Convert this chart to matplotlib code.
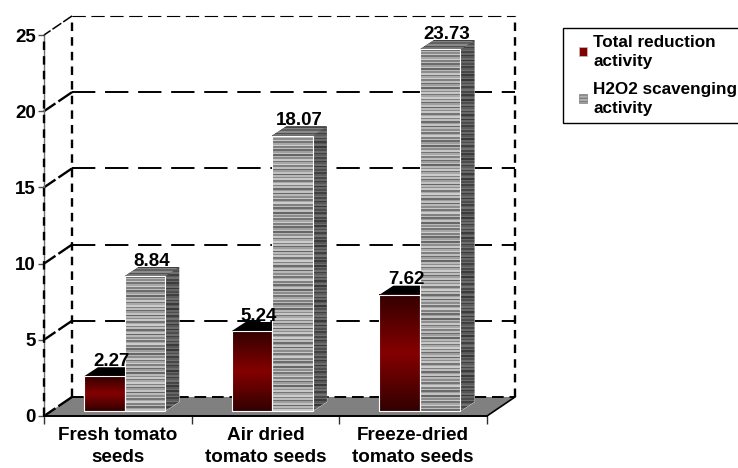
import matplotlib
matplotlib.use('Agg')
import matplotlib.pyplot as plt
from matplotlib.patches import Polygon, Patch, Rectangle
from matplotlib.legend_handler import HandlerPatch
import numpy as np

plt.rcParams['font.family'] = ['Liberation Sans', 'DejaVu Sans']
plt.rcParams['font.weight'] = 'bold'

categories = ['Fresh tomato\nseeds', 'Air dried\ntomato seeds', 'Freeze-dried\ntomato seeds']
total_reduction = [2.27, 5.24, 7.62]
h2o2_scavenging = [8.84, 18.07, 23.73]
legend_labels = ['Total reduction\nactivity', 'H2O2 scavenging\nactivity']
yticks = [0, 5, 10, 15, 20, 25]

# pseudo 3D offsets, in data units
wall_dx, wall_dy = 0.19, 1.25
bar_dx, bar_dy = 0.095, 0.6
base = 0.33
bar_w = 0.275

# texture for the grey bars
stripe = [0.40, 0.72, 0.55, 0.78, 0.46, 0.66, 0.80, 0.50, 0.74, 0.42, 0.62, 0.76]


def stripes(n, scale=1.0):
    return np.array([stripe[i % len(stripe)] * scale for i in range(n)]).reshape(-1, 1)


# dark - red - dark, top to bottom
red_grad = np.zeros((64, 1, 3))
t = 1 - np.abs(np.linspace(-1, 1, 64))
red_grad[:, 0, 0] = 0.2 + 0.32 * t


# small square at the right of the handle box
def square_handle(legend, orig_handle, xdescent, ydescent, width, height, fontsize):
    return Rectangle((width - 6, height / 2 - 3), 6, 6)


fig = plt.figure(figsize=(7.38, 4.68), dpi=100)
ax = fig.add_axes([44 / 738, 52 / 468, 443 / 738, 381 / 468])
ax.set_xlim(0, 3)
ax.set_ylim(0, 25)

# floor
ax.add_patch(Polygon([(0, 0), (3, 0), (3 + wall_dx, wall_dy), (wall_dx, wall_dy)],
                     facecolor='#808080', edgecolor='none', zorder=1, clip_on=False))

# back wall
dash = (0, (12, 5))
for v in yticks[1:]:
    lw = 0.8 if v == 25 else 1.4
    ax.plot([wall_dx, 3 + wall_dx], [v + wall_dy, v + wall_dy], color='black', lw=lw,
            ls=dash, clip_on=False, zorder=2)
    ax.plot([wall_dx, 0], [v + wall_dy, v], color='black', lw=lw + 0.3, ls=(0, (7, 1.5)),
            clip_on=False, zorder=2)
ax.plot([wall_dx, 3 + wall_dx], [wall_dy, wall_dy], color='black', lw=1.4, ls=(0, (6, 3)),
        clip_on=False, zorder=2)
for xw in [wall_dx, 3 + wall_dx]:
    ax.plot([xw, xw], [wall_dy, 25 + wall_dy], color='black', lw=1.7, ls=(0, (3.6, 2.6)),
            clip_on=False, zorder=2)
ax.plot([wall_dx, 0], [wall_dy, 0], color='black', lw=1.7, ls=(0, (7, 1.5)), clip_on=False, zorder=2)
ax.plot([3, 3 + wall_dx], [0, wall_dy], color='black', lw=1.2, clip_on=False, zorder=2)
ax.plot([0, 0], [0, 25], color='black', lw=1.7, ls=(0, (3.6, 2.6)), clip_on=False, zorder=4)

# bars
for i in range(3):
    x_red = i + 0.408
    x_grey = i + 0.683
    for x, v, kind in [(x_red, total_reduction[i], 'red'), (x_grey, h2o2_scavenging[i], 'grey')]:
        left = x - bar_w / 2
        right = x + bar_w / 2
        top = base + v
        rows = max(int(v * 15.24 / 1.6), 3)

        # side
        side = Polygon([(right, base), (right + bar_dx, base + bar_dy),
                        (right + bar_dx, top + bar_dy), (right, top)],
                       facecolor='#505050', edgecolor='white', lw=0.5, zorder=3)
        ax.add_patch(side)
        im = ax.imshow(stripes(rows, 0.55), cmap='gray', vmin=0, vmax=1, aspect='auto',
                       extent=[right, right + bar_dx, base, top + bar_dy], zorder=3.1,
                       interpolation='nearest')
        im.set_clip_path(side)

        # roof
        roof = Polygon([(left, top), (right, top), (right + bar_dx, top + bar_dy),
                        (left + bar_dx, top + bar_dy)],
                       facecolor='black', edgecolor='none', zorder=3)
        ax.add_patch(roof)
        if kind == 'grey':
            im = ax.imshow(stripes(6, 0.7), cmap='gray', vmin=0, vmax=1, aspect='auto',
                           extent=[left, right + bar_dx, top, top + bar_dy], zorder=3.1,
                           interpolation='nearest')
            im.set_clip_path(roof)

        # front
        ax.bar(x, v, width=bar_w, bottom=base, facecolor='none', edgecolor='white', lw=0.8, zorder=3.5)
        if kind == 'red':
            ax.imshow(red_grad, aspect='auto', extent=[left, right, base, top], zorder=3.2,
                      interpolation='bilinear')
        else:
            ax.imshow(stripes(rows), cmap='gray', vmin=0, vmax=1, aspect='auto',
                      extent=[left, right, base, top], zorder=3.2, interpolation='nearest')

        ax.text(x + bar_dx / 2, top + bar_dy - 0.17, f'{v:.2f}', ha='center', va='bottom',
                fontsize=13.5, fontweight='bold', color='black', zorder=5)

ax.set_xlim(0, 3)
ax.set_ylim(0, 25)

for s in ['top', 'right']:
    ax.spines[s].set_visible(False)
ax.spines['left'].set_color('#707070')
ax.spines['left'].set_linewidth(1.0)
ax.spines['bottom'].set_linewidth(1.4)
ax.spines['bottom'].set_zorder(6)

ax.set_yticks(yticks)
ax.set_xticks([0, 1, 2, 3])
ax.set_xticklabels([])
ax.set_xticks([0.5, 1.5, 2.5], categories, minor=True)
ax.tick_params(axis='x', which='major', length=6, width=1, color='#303030')
ax.tick_params(axis='x', which='minor', length=0, pad=8, labelsize=13.6)
for lab in ax.get_xticklabels(minor=True):
    lab.set_linespacing(1.4)
ax.tick_params(axis='y', length=4, width=1, color='#505050', labelsize=13.5, pad=2)

handles = [Patch(facecolor='#800000', edgecolor='#c0c0c0', lw=0.5),
           Patch(facecolor='#b0b0b0', edgecolor='#808080', hatch='-----', lw=0.5)]
leg = fig.legend(handles, legend_labels, loc='upper left', bbox_to_anchor=(563 / 738, 1 - 28 / 468),
                 fontsize=12.3, frameon=True, fancybox=False, edgecolor='black', framealpha=1,
                 handlelength=1.0, handleheight=0.8, handletextpad=0.35, labelspacing=0.75,
                 borderpad=0.42, borderaxespad=0,
                 handler_map={Patch: HandlerPatch(patch_func=square_handle)})
leg.get_frame().set_linewidth(1.0)
for lab in leg.get_texts():
    lab.set_linespacing(1.33)

plt.savefig('out.png', dpi=100)
